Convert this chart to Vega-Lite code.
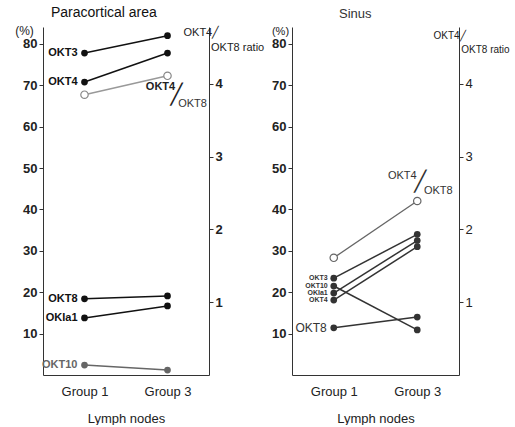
{
  "$schema": "https://vega.github.io/schema/vega-lite/v6.json",
  "padding": {"left": 14, "top": 6, "right": 0, "bottom": 0},
  "spacing": 83,
  "bounds": "flush",
  "config": {
    "view": {"stroke": null},
    "font": "Liberation Sans",
    "axis": {"grid": false, "domainColor": "#333", "tickColor": "#333", "labelColor": "#222", "titleColor": "#222", "labelFont": "Liberation Sans", "labelFontWeight": "bold", "labelFontSize": 13, "titleFont": "Liberation Sans"}
  },
  "datasets": {
    "para": [
      {"marker": "OKT3", "group": "Group 1", "value": 77.8},
      {"marker": "OKT3", "group": "Group 3", "value": 82.0},
      {"marker": "OKT4", "group": "Group 1", "value": 70.8},
      {"marker": "OKT4", "group": "Group 3", "value": 77.8},
      {"marker": "OKT8", "group": "Group 1", "value": 18.4},
      {"marker": "OKT8", "group": "Group 3", "value": 19.1},
      {"marker": "OKIa1", "group": "Group 1", "value": 13.8},
      {"marker": "OKIa1", "group": "Group 3", "value": 16.7},
      {"marker": "OKT10", "group": "Group 1", "value": 2.4},
      {"marker": "OKT10", "group": "Group 3", "value": 1.2}
    ],
    "para_ratio": [
      {"group": "Group 1", "ratio": 3.85},
      {"group": "Group 3", "ratio": 4.11}
    ],
    "sinus": [
      {"marker": "OKT3", "group": "Group 1", "value": 23.4},
      {"marker": "OKT3", "group": "Group 3", "value": 34.0},
      {"marker": "OKT10", "group": "Group 1", "value": 21.5},
      {"marker": "OKT10", "group": "Group 3", "value": 10.9},
      {"marker": "OKIa1", "group": "Group 1", "value": 19.8},
      {"marker": "OKIa1", "group": "Group 3", "value": 32.5},
      {"marker": "OKT4", "group": "Group 1", "value": 18.1},
      {"marker": "OKT4", "group": "Group 3", "value": 31.0},
      {"marker": "OKT8", "group": "Group 1", "value": 11.4},
      {"marker": "OKT8", "group": "Group 3", "value": 14.0}
    ],
    "sinus_ratio": [
      {"group": "Group 1", "ratio": 1.61},
      {"group": "Group 3", "ratio": 2.39}
    ]
  },
  "hconcat": [
    {
      "title": {"text": "Paracortical area", "fontSize": 14, "fontWeight": "normal", "anchor": "start", "frame": "group", "dx": 8, "offset": 4, "color": "#111"},
      "width": 166,
      "height": 348,
      "layer": [
        {
          "data": {"name": "para"},
          "encoding": {
            "x": {"field": "group", "type": "ordinal", "scale": {"type": "point", "padding": 0.5, "domain": ["Group 1", "Group 3"]}, "axis": {"title": "Lymph nodes", "labelAngle": 0, "ticks": false, "labelPadding": 10, "titlePadding": 14, "titleFontSize": 13, "titleFontWeight": "normal", "labelFontSize": 13, "labelFontWeight": "normal"}},
            "y": {"field": "value", "type": "quantitative", "scale": {"domain": [0, 84.1], "nice": false}, "axis": {"values": [10, 20, 30, 40, 50, 60, 70, 80], "title": "(%)", "titleAngle": 0, "titleAlign": "center", "titleBaseline": "top", "titleX": -19, "titleY": -2, "titleFontSize": 12, "titleFontWeight": "normal", "tickSize": 4, "labelPadding": 2}},
            "color": {"field": "marker", "type": "nominal", "scale": {"domain": ["OKT3", "OKT4", "OKT8", "OKIa1", "OKT10"], "range": ["#111", "#111", "#111", "#111", "#666"]}, "legend": null}
          },
          "layer": [
            {"mark": {"type": "line", "strokeWidth": 1.5}, "encoding": {"detail": {"field": "marker"}}},
            {"mark": {"type": "point", "filled": true, "opacity": 1, "size": 45}},
            {"transform": [{"filter": "datum.group === 'Group 1'"}], "mark": {"type": "text", "align": "right", "baseline": "middle", "dx": -7, "fontSize": 11, "fontWeight": "bold"}, "encoding": {"text": {"field": "marker"}}}
          ]
        },
        {
          "data": {"name": "para_ratio"},
          "encoding": {
            "x": {"field": "group", "type": "ordinal", "scale": {"type": "point", "padding": 0.5, "domain": ["Group 1", "Group 3"]}},
            "y": {"field": "ratio", "type": "quantitative", "scale": {"domain": [0, 4.78], "nice": false}, "axis": {"orient": "right", "values": [1, 2, 3, 4], "title": ["OKT4╱", "\u200b\u00a0\u00a0\u00a0\u00a0\u00a0\u00a0\u00a0\u00a0\u00a0OKT8 ratio"], "titleAngle": 0, "titleAlign": "left", "titleBaseline": "top", "titleX": -26, "titleY": -1, "titleFontSize": 11, "titleFontWeight": "normal", "titleLineHeight": 15, "tickSize": 4, "labelPadding": 2}}
          },
          "layer": [
            {"mark": {"type": "line", "strokeWidth": 1.5, "color": "#999"}},
            {"mark": {"type": "point", "filled": true, "fill": "white", "stroke": "#888", "strokeWidth": 1.2, "opacity": 1, "size": 55}},
            {"transform": [{"filter": "datum.group === 'Group 3'"}], "mark": {"type": "text", "align": "center", "baseline": "middle", "dx": -7, "dy": 11, "fontSize": 11, "fontWeight": "bold", "color": "#222", "text": "OKT4"}},
            {"transform": [{"filter": "datum.group === 'Group 3'"}], "mark": {"type": "text", "align": "center", "baseline": "middle", "dx": 9, "dy": 19, "fontSize": 20, "font": "DejaVu Sans", "color": "#222", "text": "╱"}},
            {"transform": [{"filter": "datum.group === 'Group 3'"}], "mark": {"type": "text", "align": "center", "baseline": "middle", "dx": 25, "dy": 28, "fontSize": 11, "color": "#333", "text": "OKT8"}}
          ]
        }
      ],
      "resolve": {"scale": {"y": "independent"}}
    },
    {
      "title": {"text": "Sinus", "fontSize": 13, "fontWeight": "normal", "anchor": "start", "frame": "group", "dx": 47, "offset": 4, "color": "#333"},
      "width": 167,
      "height": 348,
      "layer": [
        {
          "data": {"name": "sinus"},
          "encoding": {
            "x": {"field": "group", "type": "ordinal", "scale": {"type": "point", "padding": 0.5, "domain": ["Group 1", "Group 3"]}, "axis": {"title": "Lymph nodes", "labelAngle": 0, "ticks": false, "labelPadding": 10, "titlePadding": 14, "titleFontSize": 13, "titleFontWeight": "normal", "labelFontSize": 13, "labelFontWeight": "normal"}},
            "y": {"field": "value", "type": "quantitative", "scale": {"domain": [0, 84.1], "nice": false}, "axis": {"values": [10, 20, 30, 40, 50, 60, 70, 80], "title": "(%)", "titleAngle": 0, "titleAlign": "center", "titleBaseline": "top", "titleX": -12, "titleY": -2, "titleFontSize": 11, "titleFontWeight": "normal", "tickSize": 4, "labelPadding": 2}}
          },
          "layer": [
            {"mark": {"type": "line", "strokeWidth": 1.5, "color": "#333"}, "encoding": {"detail": {"field": "marker"}}},
            {"mark": {"type": "point", "filled": true, "opacity": 1, "size": 45, "color": "#333"}},
            {"transform": [{"filter": "datum.group === 'Group 1' && datum.marker !== 'OKT8'"}], "mark": {"type": "text", "align": "right", "baseline": "middle", "dx": -6, "fontSize": 7, "fontWeight": "bold", "color": "#333"}, "encoding": {"text": {"field": "marker"}}},
            {"transform": [{"filter": "datum.group === 'Group 1' && datum.marker === 'OKT8'"}], "mark": {"type": "text", "align": "right", "baseline": "middle", "dx": -7, "fontSize": 12, "color": "#333"}, "encoding": {"text": {"field": "marker"}}}
          ]
        },
        {
          "data": {"name": "sinus_ratio"},
          "encoding": {
            "x": {"field": "group", "type": "ordinal", "scale": {"type": "point", "padding": 0.5, "domain": ["Group 1", "Group 3"]}},
            "y": {"field": "ratio", "type": "quantitative", "scale": {"domain": [0, 4.78], "nice": false}, "axis": {"orient": "right", "values": [1, 2, 3, 4], "title": ["OKT4╱", "\u200b\u00a0\u00a0\u00a0\u00a0\u00a0\u00a0\u00a0\u00a0\u00a0\u00a0OKT8 ratio"], "titleAngle": 0, "titleAlign": "left", "titleBaseline": "top", "titleX": -26, "titleY": 3, "titleFontSize": 10, "titleFontWeight": "normal", "titleLineHeight": 14, "tickSize": 4, "labelPadding": 2, "labelFontWeight": "normal"}}
          },
          "layer": [
            {"mark": {"type": "line", "strokeWidth": 1.3, "color": "#666"}},
            {"mark": {"type": "point", "filled": true, "fill": "white", "stroke": "#666", "strokeWidth": 1.2, "opacity": 1, "size": 55}},
            {"transform": [{"filter": "datum.group === 'Group 3'"}], "mark": {"type": "text", "align": "center", "baseline": "middle", "dx": -15, "dy": -25, "fontSize": 11, "color": "#333", "text": "OKT4"}},
            {"transform": [{"filter": "datum.group === 'Group 3'"}], "mark": {"type": "text", "align": "center", "baseline": "middle", "dx": 3, "dy": -19, "fontSize": 20, "font": "DejaVu Sans", "color": "#333", "text": "╱"}},
            {"transform": [{"filter": "datum.group === 'Group 3'"}], "mark": {"type": "text", "align": "center", "baseline": "middle", "dx": 21, "dy": -10, "fontSize": 11, "color": "#333", "text": "OKT8"}}
          ]
        }
      ],
      "resolve": {"scale": {"y": "independent"}}
    }
  ]
}
